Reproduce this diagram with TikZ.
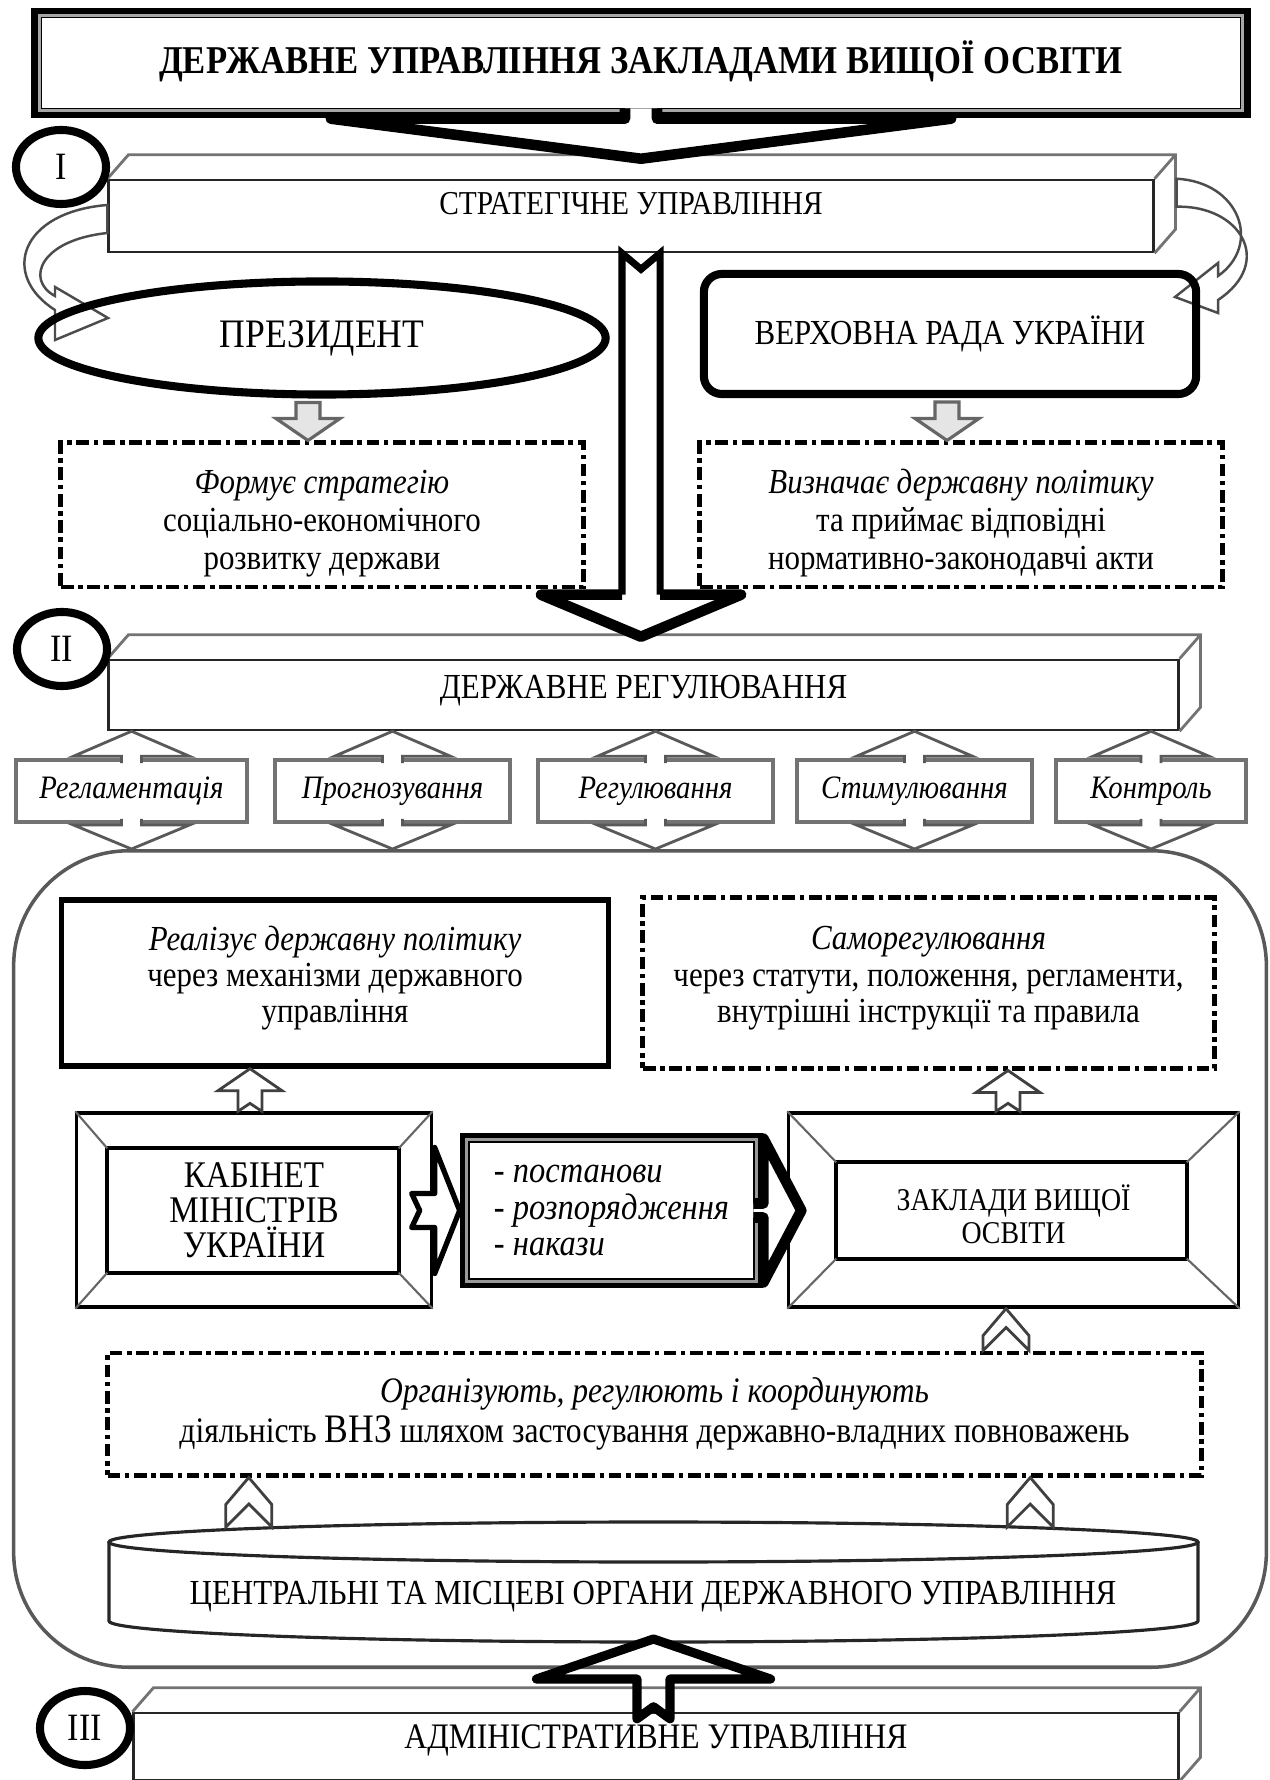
\documentclass[tikz,border=0pt]{standalone}
\usepackage{fontspec}
\setmainfont{Liberation Serif}[FakeStretch=0.88]
\usetikzlibrary{calc,shapes.geometric}

% block arrows: #2 gives x, #3 start, #4 tip
\newcommand{\blkdown}[4][]{%
  \draw[#1] let \p1=#2, \p2=#3, \p3=#4 in
    (\x1-0.12cm,\y2) -- (\x1-0.12cm,\y3+0.22cm) -- (\x1-0.32cm,\y3+0.22cm) -- (\x1,\y3)
    -- (\x1+0.32cm,\y3+0.22cm) -- (\x1+0.12cm,\y3+0.22cm) -- (\x1+0.12cm,\y2) -- cycle;}
\newcommand{\blkup}[4][]{%
  \draw[#1] let \p1=#2, \p2=#3, \p3=#4 in
    (\x1-0.12cm,\y2) -- (\x1-0.12cm,\y3-0.22cm) -- (\x1-0.32cm,\y3-0.22cm) -- (\x1,\y3)
    -- (\x1+0.32cm,\y3-0.22cm) -- (\x1+0.12cm,\y3-0.22cm) -- (\x1+0.12cm,\y2) -- (\x1,\y2+0.08cm) -- cycle;}
\newcommand{\chevup}[4][]{%
  \draw[#1] let \p1=#2, \p2=#3, \p3=#4 in
    (\x1-0.23cm,\y2) -- (\x1-0.23cm,\y3-0.27cm) -- (\x1,\y3) -- (\x1+0.23cm,\y3-0.27cm)
    -- (\x1+0.23cm,\y2) -- (\x1,\y2+0.23cm) -- cycle;}
% heads of the double arrows round the five functions
\newcommand{\headup}[2]{%
  \draw[headarrow] let \p1=#1, \p2=#2 in
    (\x1-0.1cm,\y1-0.05cm) -- (\x1-0.1cm,\y2-0.25cm) -- (\x1-0.58cm,\y2-0.25cm) -- (\x1,\y2)
    -- (\x1+0.58cm,\y2-0.25cm) -- (\x1+0.1cm,\y2-0.25cm) -- (\x1+0.1cm,\y1-0.05cm);}
\newcommand{\headdown}[2]{%
  \draw[headarrow] let \p1=#1, \p2=#2 in
    (\x1-0.1cm,\y1+0.05cm) -- (\x1-0.1cm,\y2+0.24cm) -- (\x1-0.58cm,\y2+0.24cm) -- (\x1,\y2)
    -- (\x1+0.58cm,\y2+0.24cm) -- (\x1+0.1cm,\y2+0.24cm) -- (\x1+0.1cm,\y1+0.05cm);}
% top and side of a box drawn as a block
\newcommand{\cubetop}[1]{%
  \draw[sideface] (#1.north west) -- ++(21,-24) -| ([shift={(21,-24)}]#1.south east) -- (#1.south east)
    (#1.north east) -- ++(21,-24);}
% inner frame with bevel lines
\newcommand{\bevelframe}[5]{%
  \draw[line width=1.1pt] ([shift={(#2,#3)}]#1.north west) rectangle ([shift={(-#4,-#5)}]#1.south east);
  \draw[bevel] (#1.north west) -- ([shift={(#2,#3)}]#1.north west)
    (#1.north east) -- ([shift={(-#4,#3)}]#1.north east)
    (#1.south west) -- ([shift={(#2,-#5)}]#1.south west)
    (#1.south east) -- ([shift={(-#4,-#5)}]#1.south east);}
% struts to move text in a box
\newcommand{\topstrut}[1]{\rule{0pt}{#1}}
\newcommand{\botstrut}[1]{\rule[-#1]{0pt}{#1}}

\begin{document}
\begin{tikzpicture}[x=0.01cm, y=-0.01cm, font=\fontsize{10}{10.8}\selectfont,
  levelmark/.style={ellipse, draw, line width=2.3pt, fill=white, minimum width=0.9cm, minimum height=0.74cm, inner sep=0pt, font=\fontsize{11}{11}\selectfont},
  face/.style={draw=black!85, line width=0.7pt, fill=white, inner sep=0pt},
  sideface/.style={draw=black!55, line width=0.8pt},
  dashdot/.style={draw, line width=1.4pt, dash pattern=on 3.6pt off 1.3pt on 1.3pt off 1.3pt, inner sep=0pt, align=center},
  graybox/.style={draw=black!55, line width=1.1pt, fill=white, inner sep=0pt, minimum height=0.62cm, font=\fontsize{9.3}{9.3}\selectfont\itshape},
  bevelbox/.style={draw, line width=0.9pt, fill=white, inner sep=0pt, minimum height=1.94cm, align=center},
  bevel/.style={draw=black!60, line width=0.6pt},
  hollow/.style={draw=black!75, line width=0.8pt, fill=white},
  grayarrow/.style={draw=black!60, line width=0.9pt, fill=black!10},
  headarrow/.style={draw=black!65, line width=0.8pt, fill=white},
  curl/.style={draw=black!70, line width=0.7pt, fill=white},
  cyl/.style={draw=black!85, line width=0.9pt}]
\useasboundingbox (0,0) rectangle (1269,1780);

% title
\node[draw, line width=3pt, inner sep=0pt, minimum width=12.08cm, minimum height=1cm, text depth=0.12cm, font=\fontsize{11.2}{12}\selectfont\bfseries] (title) at (641,63) {ДЕРЖАВНЕ УПРАВЛІННЯ ЗАКЛАДАМИ ВИЩОЇ ОСВІТИ};
\draw[black!35, line width=0.8pt] ([shift={(8,8)}]title.north west) rectangle ([shift={(-8,-8)}]title.south east);

% level I
\node[face, minimum width=10.44cm, minimum height=0.72cm, text depth=0.26cm, font=\fontsize{9.5}{10}\selectfont] (strat) at (631,216) {СТРАТЕГІЧНЕ УПРАВЛІННЯ};
\cubetop{strat}
\draw[line width=3pt, fill=white, line join=round] let \p1=(title.south), \p2=([yshift=0.2cm]strat.north) in
  (\x1-0.16cm,\y1+0.1cm) -- (\x1-0.16cm,\y2+0.4cm) -- (\x1-3.1cm,\y2+0.4cm) -- (\x1,\y2)
  -- (\x1+3.1cm,\y2+0.4cm) -- (\x1+0.16cm,\y2+0.4cm) -- (\x1+0.16cm,\y1+0.1cm);
\draw[curl] ([yshift=0.11cm]strat.west) .. controls (20,212) and (0,275) .. (55,310) -- (55,340) -- (108,318)
  -- (55,287) -- (55,296) .. controls (25,280) and (40,240) .. ([yshift=-0.17cm]strat.west) -- cycle;
\draw[curl] ([xshift=0.22cm]strat.north east) .. controls (1240,182) and (1262,245) .. (1218,276) -- (1218,263)
  -- (1175,297) -- (1218,313) -- (1218,300) .. controls (1275,262) and (1240,205) .. ([shift={(22,28)}]strat.north east) -- cycle;
\node[levelmark] (lvlone) at (61,167) {I};

\node[ellipse, draw, line width=2.3pt, inner sep=0pt, minimum width=5.67cm, minimum height=1.13cm, font=\fontsize{11.5}{12}\selectfont] (pres) at (322,338) {ПРЕЗИДЕНТ};
\node[draw, rounded corners=0.18cm, line width=2.3pt, inner sep=0pt, minimum width=4.92cm, minimum height=1.2cm, font=\fontsize{10}{10}\selectfont] (rada) at (950,334) {ВЕРХОВНА РАДА УКРАЇНИ};

\node[dashdot, minimum width=5.22cm, minimum height=1.44cm] (strategy) at (322,515) {\textit{\topstrut{0.4cm}Формує стратегію}\\соціально-економічного\\розвитку держави};
\node[dashdot, minimum width=5.22cm, minimum height=1.44cm] (policy) at (961,515) {\textit{\topstrut{0.4cm}Визначає державну політику}\\та приймає відповідні\\нормативно-законодавчі акти};
\blkdown[grayarrow]{([xshift=-0.14cm]pres.south)}{([yshift=-0.04cm]pres.south)}{(strategy.north)}
\blkdown[grayarrow]{([xshift=-0.03cm]rada.south)}{([yshift=-0.04cm]rada.south)}{(policy.north)}

% level II
\node[face, minimum width=10.69cm, minimum height=0.7cm, text depth=0.16cm, font=\fontsize{10}{10}\selectfont] (reg) at (643.5,695) {ДЕРЖАВНЕ РЕГУЛЮВАННЯ};
\cubetop{reg}
\draw[line width=2pt] let \p1=([xshift=0.1cm]strat.south), \p2=([yshift=0.22cm]reg.north) in
  (\x1-0.19cm,\y2+0.42cm) -- (\x1-0.19cm,\y1) -- (\x1,\y1-0.16cm) -- (\x1+0.19cm,\y1) -- (\x1+0.19cm,\y2+0.42cm);
\draw[line width=3pt, line join=round] let \p1=([xshift=0.1cm]strat.south), \p2=([yshift=0.22cm]reg.north) in
  (\x1-0.19cm,\y2+0.42cm) -- (\x1-1cm,\y2+0.42cm) -- (\x1,\y2) -- (\x1+1cm,\y2+0.42cm) -- (\x1+0.19cm,\y2+0.42cm);
\node[levelmark] (lvltwo) at (62,649) {II};

\node[draw=black!65, line width=1pt, rounded corners=1.15cm, inner sep=0pt, minimum width=12.52cm, minimum height=8.16cm] (govbody) at (640,1259) {};
\foreach \bname/\cx/\bw/\blabel in {regl/131.5/2.31/Регламентація, prog/392.5/2.35/Прогнозування,
    regul/655.5/2.35/Регулювання, stim/914.5/2.35/Стимулювання, ctrl/1151/1.9/Контроль}{
  \node[graybox, minimum width=\bw cm] (\bname) at (\cx,791) {\blabel};
  \headup{(\bname.north)}{(reg.south)}
  \headdown{(\bname.south)}{(govbody.north)}
}

\node[draw, line width=1.5pt, inner sep=0pt, minimum width=5.46cm, minimum height=1.66cm, align=center, font=\fontsize{10}{10.3}\selectfont] (realize) at (335,983) {\textit{Реалізує державну політику}\\через механізми державного\\управління\botstrut{0.17cm}};
\node[dashdot, minimum width=5.71cm, minimum height=1.7cm, font=\fontsize{10}{10.3}\selectfont] (selfreg) at (928.5,983) {\textit{Саморегулювання}\\через статути, положення, регламенти,\\внутрішні інструкції та правила\botstrut{0.17cm}};

\node[bevelbox, minimum width=3.54cm, font=\fontsize{10.7}{10}\selectfont] (kab) at (254,1210) {КАБІНЕТ\\МІНІСТРІВ\\УКРАЇНИ};
\bevelframe{kab}{32}{37}{34}{36}
\node[bevelbox, minimum width=4.49cm, font=\fontsize{9}{9.4}\selectfont] (zvo) at (1013.5,1210) {\topstrut{0.35cm}ЗАКЛАДИ ВИЩОЇ\\ОСВІТИ};
\bevelframe{zvo}{49}{51}{53}{50}
\node[draw, line width=3pt, inner sep=0pt, minimum width=2.93cm, minimum height=1.45cm, align=left, fill=white, font=\fontsize{10.5}{10.5}\selectfont] (acts) at (611.5,1210.5) {- \textit{постанови}\\- \textit{розпорядження}\\- \textit{накази}};
\draw[black!40, line width=0.8pt] ([shift={(7,7)}]acts.north west) rectangle ([shift={(-7,-7)}]acts.south east);
\draw[line width=1.5pt, fill=white, line join=round] let \p1=(kab.east), \p2=(acts.west) in
  (\x1-0.21cm,\y2+0.17cm) -- (\x1+0.02cm,\y2+0.17cm) -- (\x1+0.02cm,\y2+0.63cm) -- (\x2,\y2)
  -- (\x1+0.02cm,\y2-0.63cm) -- (\x1+0.02cm,\y2-0.17cm) -- (\x1-0.21cm,\y2-0.17cm) -- (\x1-0.13cm,\y2) -- cycle;
\draw[line width=3pt, fill=white, line join=round] let \p1=(acts.east), \p2=(zvo.west) in
  (\x1-0.1cm,\y1+0.07cm) -- (\x1,\y1+0.07cm) -- (\x1,\y1+0.72cm) -- (\x2+0.14cm,\y1)
  -- (\x1,\y1-0.72cm) -- (\x1,\y1-0.07cm) -- (\x1-0.1cm,\y1-0.07cm);
\blkup[hollow]{([xshift=-0.04cm]kab.north)}{(kab.north)}{(realize.south)}
\blkup[hollow]{([xshift=-0.055cm]zvo.north)}{(zvo.north)}{(selfreg.south)}

\node[dashdot, minimum width=10.93cm, minimum height=1.22cm, font=\fontsize{10.2}{11.4}\selectfont] (org) at (654.5,1414) {\textit{Організують, регулюють і координують}\\діяльність {\fontsize{11.5}{11.4}\selectfont ВНЗ} шляхом застосування державно-владних повноважень};
\chevup[hollow]{([xshift=-0.075cm]zvo.south)}{(org.north)}{(zvo.south)}

% central and local bodies
\coordinate (cyltop) at (653.5,1527);
\coordinate (cylbot) at (653.5,1642);
\draw[cyl] (653.5,1542) ellipse [x radius=544.5, y radius=20];
\draw[cyl] (109,1542) -- (109,1621) arc [start angle=180, end angle=0, x radius=544.5, y radius=21] -- (1198,1542);
\node[font=\fontsize{10}{10}\selectfont] (organs) at (653,1597) {ЦЕНТРАЛЬНІ ТА МІСЦЕВІ ОРГАНИ ДЕРЖАВНОГО УПРАВЛІННЯ};
\chevup[hollow]{([xshift=-4.045cm]cyltop)}{(cyltop)}{(org.south)}
\chevup[hollow]{([xshift=3.765cm]cyltop)}{(cyltop)}{(org.south)}

% level III
\node[face, minimum width=10.44cm, minimum height=0.67cm, text depth=0.19cm, font=\fontsize{10.2}{10}\selectfont] (admin) at (656,1746.5) {АДМІНІСТРАТИВНЕ УПРАВЛІННЯ};
\cubetop{admin}
\node[levelmark] (lvlthree) at (85,1728) {III};
\draw[line width=2.6pt, line join=round] let \p1=(cylbot), \p2=([yshift=-0.07cm]admin.north) in
  (\x1-0.165cm,\y2) -- (\x1-0.165cm,\y1-0.37cm) -- (\x1-1.17cm,\y1-0.37cm) -- (\x1,\y1+0.03cm)
  -- (\x1+1.17cm,\y1-0.37cm) -- (\x1+0.165cm,\y1-0.37cm) -- (\x1+0.165cm,\y2) -- (\x1,\y2+0.12cm) -- cycle;
\end{tikzpicture}
\end{document}
